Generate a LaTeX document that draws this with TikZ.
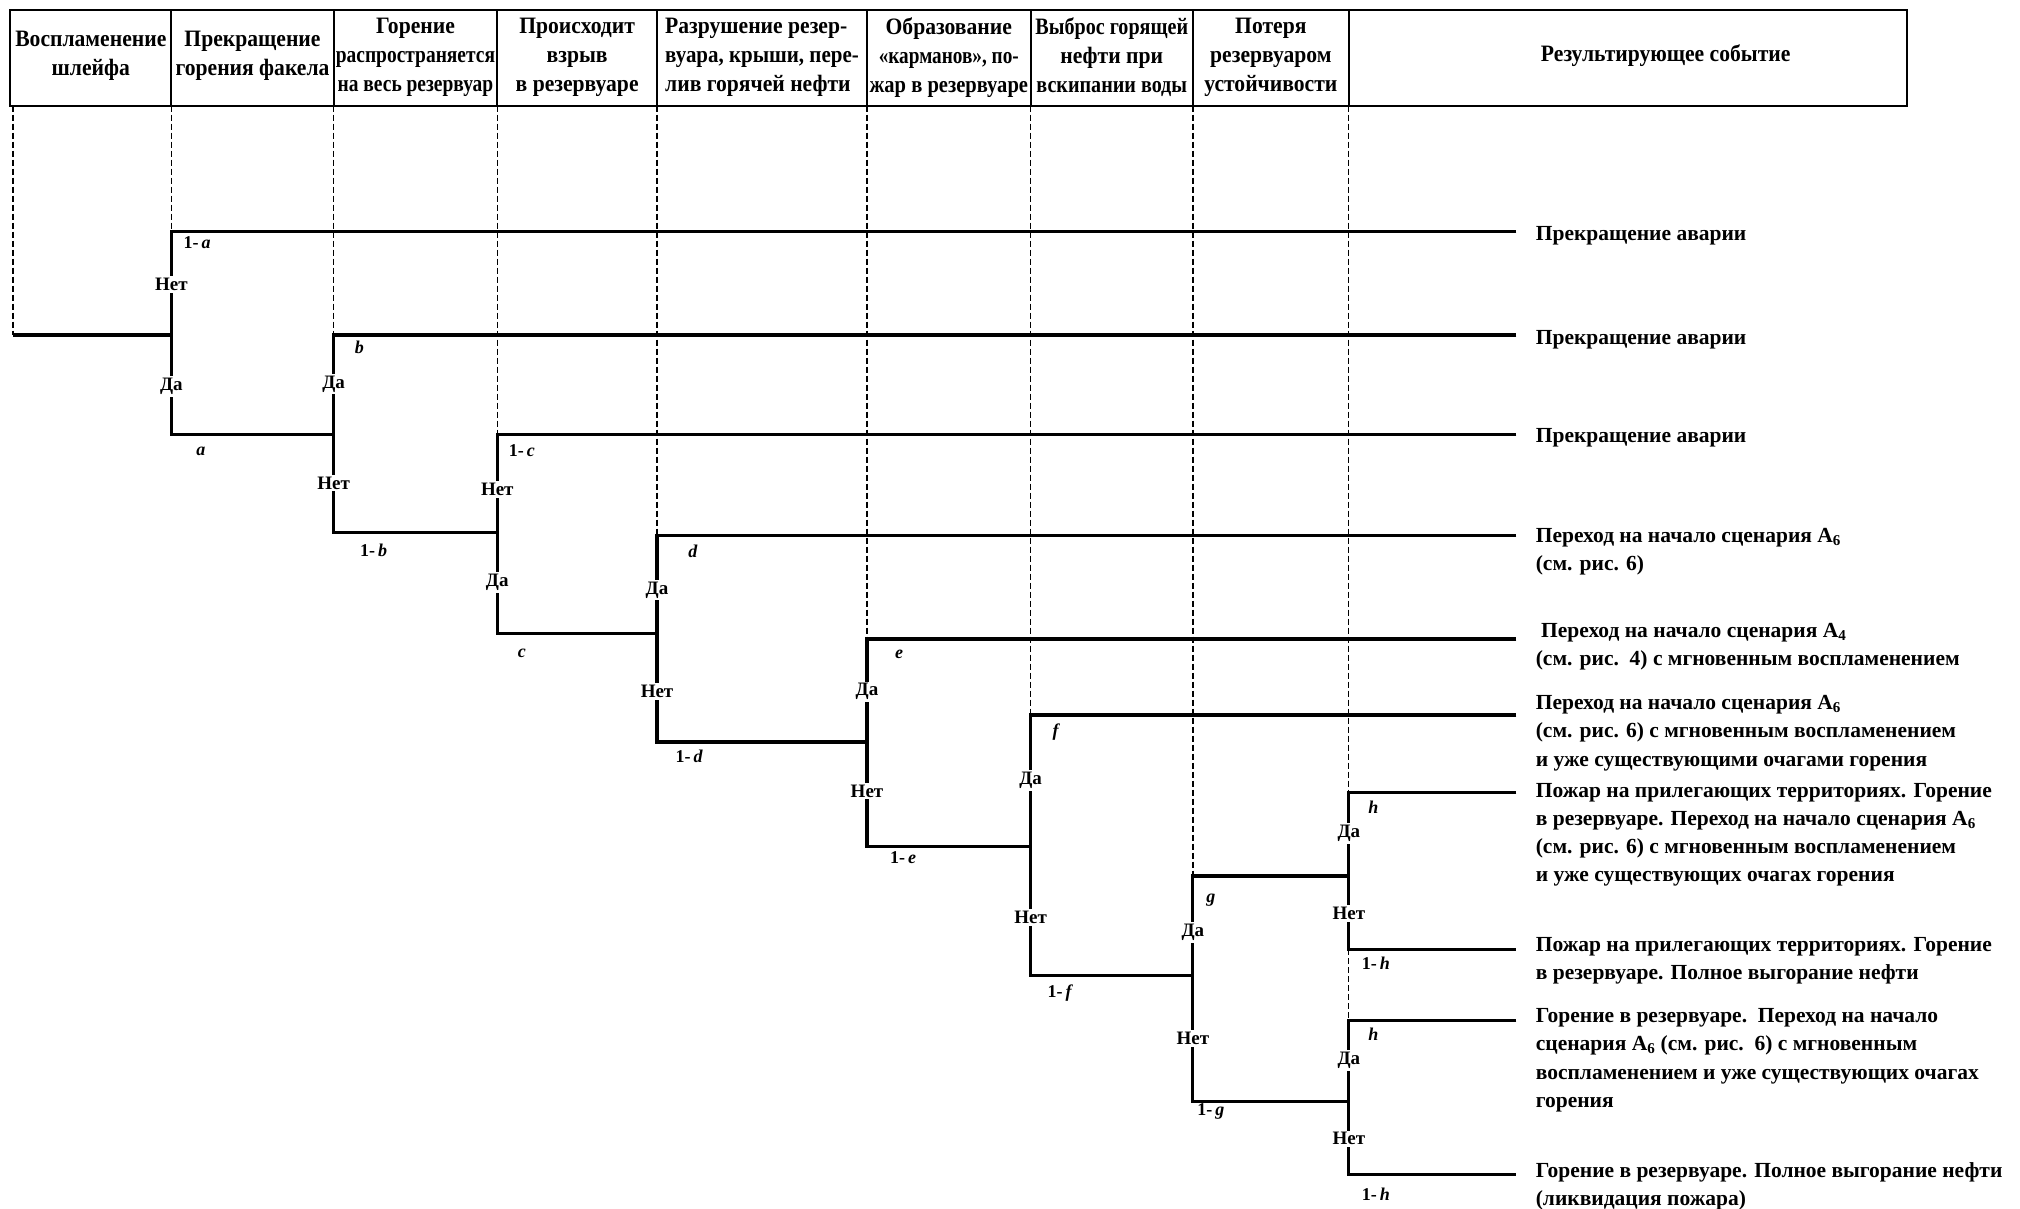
\documentclass[tikz,border=0pt]{standalone}
\usepackage{fontspec}
\setmainfont{Liberation Serif}
\newfontfamily\hdrfont[FakeStretch=0.92]{Liberation Serif}
\newcommand{\sq}[2]{\scalebox{#1}[1]{#2}}
\begin{document}
\begin{tikzpicture}[x=1.2883pt,y=-1.2883pt,
  br/.style={line width=3.1pt, line join=miter},
  guide/.style={line width=1.3pt, dash pattern=on 6pt off 3pt},
  hbox/.style={line width=2.2pt},
  yn/.style={font=\bfseries\fontsize{19}{19}\selectfont, fill=white, inner sep=2pt},
  pl/.style={font=\bfseries\fontsize{18}{18}\selectfont, inner sep=0pt},
  res/.style={font=\bfseries\fontsize{21.5}{28.3}\selectfont, align=left, anchor=west, inner sep=0pt},
  hdr/.style={font=\hdrfont\bfseries\fontsize{23.5}{29}\selectfont, align=center, inner sep=0pt}]
\useasboundingbox (0,0) rectangle (1568,938);

% header
\draw[hbox] (8,8) rectangle (1480,82);
\foreach \x/\n in {133/1,259/2,386/3,510/4,673/5,800/6,926/7,1047/8}{
  \coordinate (hb\n) at (\x,82);
  \draw[hbox] (\x,8) -- (hb\n);
}
\coordinate (hb0) at (10,82);
\node[hdr] (h1) at (70.5,43) {Воспламенение\\шлейфа};
\node[hdr] (h2) at (196,43) {Прекращение\\горения факела};
\node[hdr] (h3) at (322.5,44.5) {Горение\\\sq{0.9}{распространяется}\\\sq{0.9}{на весь резервуар}};
\node[hdr] (h4) at (448,44.5) {Происходит\\взрыв\\в резервуаре};
\node[hdr, align=left] (h5) at (591.5,44.5) {Разрушение резер-\\\sq{0.97}{вуара, крыши, пере-}\\лив горячей нефти};
\node[hdr] (h6) at (736.5,44.5) {Образование\\\sq{0.89}{«карманов», по-}\\\sq{0.95}{жар в резервуаре}};
\node[hdr] (h7) at (863,44.5) {\sq{0.93}{Выброс горящей}\\нефти при\\\sq{0.93}{вскипании воды}};
\node[hdr] (h8) at (986.5,44.5) {Потеря\\резервуаром\\устойчивости};
\node[hdr] (h9) at (1293,43) {Результирующее событие};

% tree coordinates
\coordinate (s0) at (10,260);
\coordinate (A) at (133,260); \coordinate (At) at (133,180); \coordinate (Ab) at (133,337); \coordinate (Ae) at (1177,180);
\coordinate (B) at (259,337); \coordinate (Bt) at (259,260); \coordinate (Bb) at (259,413); \coordinate (Be) at (1177,260);
\coordinate (C) at (386,413); \coordinate (Ct) at (386,337); \coordinate (Cb) at (386,492); \coordinate (Ce) at (1177,337);
\coordinate (D) at (510,492); \coordinate (Dt) at (510,416); \coordinate (Db) at (510,576); \coordinate (De) at (1177,416);
\coordinate (E) at (673,576); \coordinate (Et) at (673,496); \coordinate (Eb) at (673,657); \coordinate (Ee) at (1177,496);
\coordinate (F) at (800,657); \coordinate (Ft) at (800,555); \coordinate (Fb) at (800,757); \coordinate (Fe) at (1177,555);
\coordinate (G) at (926,757); \coordinate (Gt) at (926,680); \coordinate (Gb) at (926,855);
\coordinate (H) at (1047,680); \coordinate (Ht) at (1047,615); \coordinate (Hb) at (1047,737);
\coordinate (Hte) at (1177,615); \coordinate (Hbe) at (1177,737);
\coordinate (K) at (1047,855); \coordinate (Kt) at (1047,792); \coordinate (Kb) at (1047,912);
\coordinate (Kte) at (1177,792); \coordinate (Kbe) at (1177,912);

% dashed guides
\draw[guide] (hb0) -- (s0);
\draw[guide] (hb1) -- (At);
\draw[guide] (hb2) -- (Bt);
\draw[guide] (hb3) -- (Ct);
\draw[guide] (hb4) -- (Dt);
\draw[guide] (hb5) -- (Et);
\draw[guide] (hb6) -- (Ft);
\draw[guide] (hb7) -- (Gt);
\draw[guide] (hb8) -- (Ht);
\draw[guide] (Hb) -- (Kt);

% branches
\draw[br] (s0) -- (A);
\draw[br] (Ae) -- (At) -- (Ab) -- (B);
\draw[br] (Be) -- (Bt) -- (Bb) -- (C);
\draw[br] (Ce) -- (Ct) -- (Cb) -- (D);
\draw[br] (De) -- (Dt) -- (Db) -- (E);
\draw[br] (Ee) -- (Et) -- (Eb) -- (F);
\draw[br] (Fe) -- (Ft) -- (Fb) -- (G);
\draw[br] (H) -- (Gt) -- (Gb) -- (K);
\draw[br] (Hte) -- (Ht) -- (Hb) -- (Hbe);
\draw[br] (Kte) -- (Kt) -- (Kb) -- (Kbe);

% yes / no
\node[yn] (n1) at (133,221) {Нет};  \node[yn] (y1) at (133,300) {Да};
\node[yn] (y2) at (259,298) {Да};   \node[yn] (n2) at (259,375) {Нет};
\node[yn] (n3) at (386,380) {Нет};  \node[yn] (y3) at (386,452) {Да};
\node[yn] (y4) at (510,458) {Да};   \node[yn] (n4) at (510,537) {Нет};
\node[yn] (y5) at (673,537) {Да};   \node[yn] (n5) at (673,614) {Нет};
\node[yn] (y6) at (800,606) {Да};   \node[yn] (n6) at (800,712) {Нет};
\node[yn] (y7) at (926,724) {Да};   \node[yn] (n7) at (926,806) {Нет};
\node[yn] (y8) at (1047,647) {Да};  \node[yn] (n8) at (1047,709) {Нет};
\node[yn] (y9) at (1047,823) {Да};  \node[yn] (n9) at (1047,884) {Нет};

% probabilities
\node[pl] (pa1) at (153,188) {1-\,\textit{a}};
\node[pl] (pa) at (156,350) {\textit{a}};
\node[pl] (pb) at (279,270) {\textit{b}};
\node[pl] (pb1) at (290,427) {1-\,\textit{b}};
\node[pl] (pc1) at (405,350) {1-\,\textit{c}};
\node[pl] (pc) at (405,507) {\textit{c}};
\node[pl] (pd) at (538,428) {\textit{d}};
\node[pl] (pd1) at (535,587) {1-\,\textit{d}};
\node[pl] (pe) at (698,508) {\textit{e}};
\node[pl] (pe1) at (701,666) {1-\,\textit{e}};
\node[pl] (pf) at (820,568) {\textit{f}};
\node[pl] (pf1) at (823,771) {1-\,\textit{f}};
\node[pl] (pg) at (940,699) {\textit{g}};
\node[pl] (pg1) at (940,863) {1-\,\textit{g}};
\node[pl] (ph) at (1066,627) {\textit{h}};
\node[pl] (ph1) at (1068,748) {1-\,\textit{h}};
\node[pl] (pk) at (1066,803) {\textit{h}};
\node[pl] (pk1) at (1068,927) {1-\,\textit{h}};

% results
\node[res] (r1) at (1192,183) {Прекращение аварии};
\node[res] (r2) at (1192,264) {Прекращение аварии};
\node[res] (r3) at (1192,340) {Прекращение аварии};
\node[res] (r4) at (1192,428) {Переход на начало сценария А\textsubscript{6}\\(см. рис. 6)};
\node[res] (r5) at (1192,502) {\ Переход на начало сценария А\textsubscript{4}\\(см. рис.\ \ 4) с мгновенным воспламенением};
\node[res] (r6) at (1192,569) {Переход на начало сценария А\textsubscript{6}\\(см. рис. 6) с мгновенным воспламенением\\и уже существующими очагами горения};
\node[res] (r7) at (1192,648) {Пожар на прилегающих территориях. Горение\\в резервуаре. Переход на начало сценария А\textsubscript{6}\\(см. рис. 6) с мгновенным воспламенением\\и уже существующих очагах горения};
\node[res] (r8) at (1192,746) {Пожар на прилегающих территориях. Горение\\в резервуаре. Полное выгорание нефти};
\node[res] (r9) at (1192,823) {Горение в резервуаре.\ \ Переход на начало\\сценария А\textsubscript{6} (см. рис.\ \ 6) с мгновенным\\воспламенением и уже существующих очагах\\горения};
\node[res] (r10) at (1192,921) {Горение в резервуаре. Полное выгорание нефти\\(ликвидация пожара)};
\end{tikzpicture}
\end{document}
